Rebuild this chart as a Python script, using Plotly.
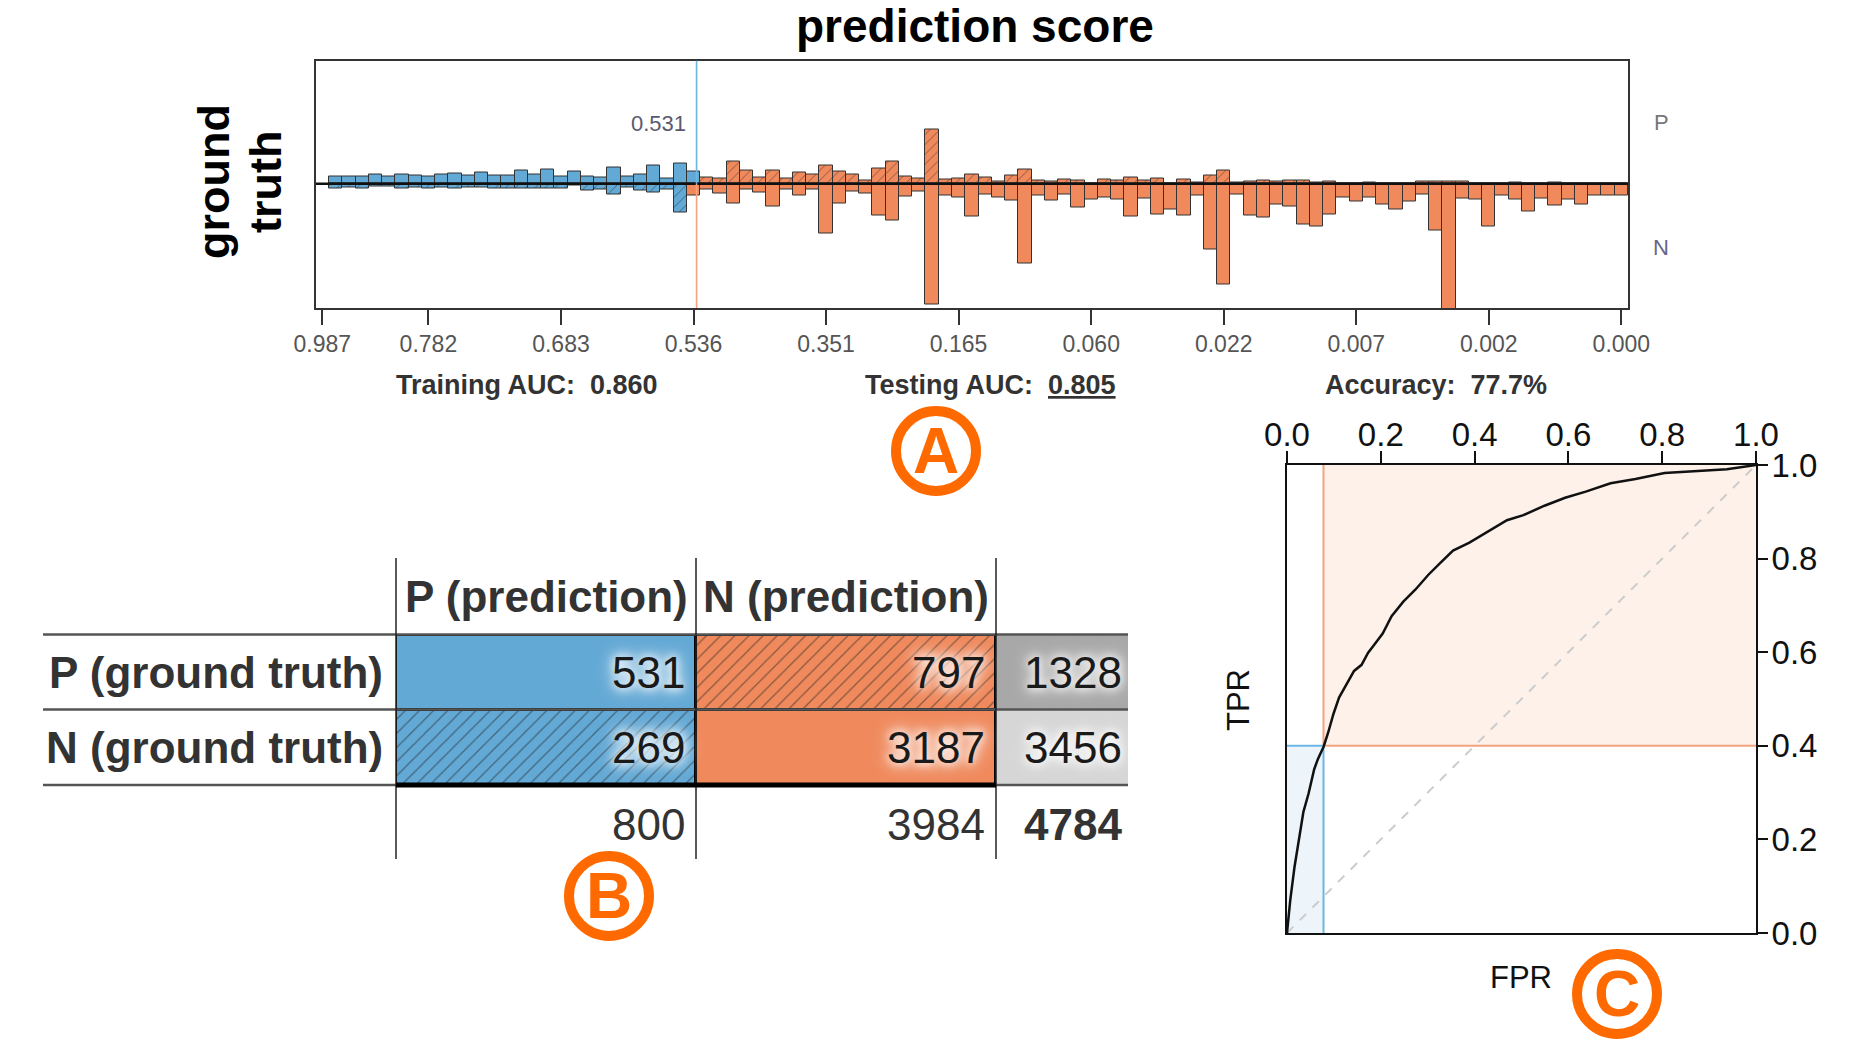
import numpy as np
import plotly.graph_objects as go

W, H = 1875, 1063

# ---------------- data ----------------
# prediction-score histogram: 98 equal-width bins ordered from high to low score
# bar heights (relative units); P ground truth drawn up, N drawn down
pos_heights = [
    7.7, 7.7, 7.3, 9, 7.7, 9.7, 8.7, 7, 9, 10.7,
    8, 11.7, 8, 8, 13, 9.7, 14.3, 7, 12.5, 7,
    6.3, 16.3, 7.7, 9, 18, 5.7, 20, 12, 6.3, 5.3,
    22.3, 13.7, 6.7, 13.7, 5.7, 11, 9.3, 18, 12, 9.7,
    3, 15.3, 22, 7, 5.7, 53.7, 4.7, 5.7, 9.7, 6,
    2, 8, 14.7, 3, 2, 4.7, 3.3, 0.3, 4.3, 3.3,
    6.7, 3.3, 5.3, 0.3, 4.3, 1.7, 8.7, 13, 1.7, 2,
    3.3, 2, 3, 3.7, 1.7, 2.3, 0, 0, 1.7, 0,
    0, 0, 2.7, 2.3, 2.3, 2.3, 0, 0, 0, 1.7,
    0, 0.7, 1.7, 0, 0, 0, 0, 0]
neg_heights = [
    5, 3.7, 5, 3, 3, 4.3, 3.7, 5, 3.7, 5,
    3.7, 3.7, 5, 5, 5, 5, 5, 5, 2, 6.5,
    6, 11, 4, 7, 9, 6, 29, 12, 6, 9.7,
    20, 6, 8.7, 22.3, 6, 12, 6, 50, 19.3, 8,
    9.7, 32, 36.7, 13, 7.3, 121, 12, 13.3, 32.7, 10.7,
    13.3, 17, 79.3, 12, 17, 10.5, 23.3, 16, 13.3, 16,
    32.5, 14.5, 31, 25.3, 32, 12, 66, 100.3, 10.5, 32,
    33.3, 21, 22.5, 40.2, 42.5, 30.5, 13.3, 17.5, 13.3, 20.7,
    26, 17.5, 11, 46.5, 135, 15.2, 16.2, 42.5, 11.3, 16,
    27.3, 14.3, 21.7, 16, 20.7, 12, 11.3, 12]
last_pred_pos_bin_up = 27
last_pred_pos_bin_down = 26
threshold_label = "0.531"
threshold_pos = 27.23
score_tick_bins = [-1, 7, 17, 27, 37, 47, 57, 67, 77, 87, 97]
score_tick_labels = ["0.987", "0.782", "0.683", "0.536", "0.351", "0.165",
                     "0.060", "0.022", "0.007", "0.002", "0.000"]

training_auc = "0.860"
testing_auc = "0.805"
accuracy = "77.7%"

# confusion matrix
row_labels = ["P (ground truth)", "N (ground truth)"]
col_labels = ["P (prediction)", "N (prediction)"]
confusion = [[531, 797],
             [269, 3187]]

# ROC curve
roc_fpr = [0.0, 0.007, 0.016, 0.027, 0.035, 0.046, 0.058, 0.066, 0.078, 0.088, 0.099, 0.111,
           0.128, 0.143, 0.159, 0.173, 0.186, 0.204, 0.223, 0.248, 0.274, 0.301, 0.327, 0.354,
           0.389, 0.425, 0.469, 0.504, 0.549, 0.593, 0.637, 0.690, 0.743, 0.805, 0.876, 0.938, 1.0]
roc_tpr = [0.0, 0.071, 0.141, 0.211, 0.259, 0.298, 0.350, 0.372, 0.398, 0.429, 0.468, 0.503,
           0.534, 0.560, 0.573, 0.599, 0.616, 0.640, 0.677, 0.708, 0.734, 0.765, 0.791, 0.817,
           0.834, 0.856, 0.882, 0.893, 0.913, 0.930, 0.943, 0.961, 0.970, 0.983, 0.987, 0.991, 1.0]
roc_ticks = [0.0, 0.2, 0.4, 0.6, 0.8, 1.0]

# ---------------- styles ----------------
FONT = "Liberation Sans, Arial, Helvetica, sans-serif"
BLUE = "#63a9d6"
ORANGE = "#f08a5d"
BLUE_LINE = "#6cb6e6"
ORANGE_LINE = "#f5a27f"
BADGE = "#ff6a00"
GLOW = "0px 0px 8px #ffffff, 0px 0px 14px #ffffff, 0px 0px 20px #ffffff"


def px(x):
    return x / W


def py(y):
    return 1 - y / H


fig = go.Figure()

# ---------------- histogram ----------------
bins = np.arange(len(pos_heights))
pos = np.array(pos_heights, dtype=float)
neg = np.array(neg_heights, dtype=float)
up_p = bins <= last_pred_pos_bin_up
dn_p = bins <= last_pred_pos_bin_down
hatch_h = dict(shape="/", fgcolor="#222", size=7, solidity=0.14, fillmode="overlay")
bar_line = dict(color="#333", width=1)

fig.add_bar(x=bins[up_p], y=pos[up_p], width=1, marker=dict(color=BLUE, line=bar_line),
            xaxis="x", yaxis="y")
fig.add_bar(x=bins[~up_p], y=pos[~up_p], width=1,
            marker=dict(color=ORANGE, line=bar_line, pattern=hatch_h), xaxis="x", yaxis="y")
fig.add_bar(x=bins[dn_p], y=-neg[dn_p], width=1,
            marker=dict(color=BLUE, line=bar_line, pattern=hatch_h), xaxis="x", yaxis="y")
fig.add_bar(x=bins[~dn_p], y=-neg[~dn_p], width=1, marker=dict(color=ORANGE, line=bar_line),
            xaxis="x", yaxis="y")

shapes = []
# baseline
shapes.append(dict(type="line", xref="x domain", yref="y", x0=0, x1=1, y0=0, y1=0,
                   line=dict(color="#111", width=2.5), layer="above"))
# threshold line
shapes.append(dict(type="line", xref="x", yref="y", x0=threshold_pos, x1=threshold_pos,
                   y0=0, y1=123, line=dict(color=BLUE_LINE, width=1.6), layer="above"))
shapes.append(dict(type="line", xref="x", yref="y", x0=threshold_pos, x1=threshold_pos,
                   y0=0, y1=-124, line=dict(color=ORANGE_LINE, width=1.6), layer="above"))

annotations = []
annotations.append(dict(x=px(975), y=py(26), xref="paper", yref="paper", text="<b>prediction score</b>",
                        showarrow=False, xanchor="center", yanchor="middle",
                        font=dict(family=FONT, size=46, color="#000")))
annotations.append(dict(x=px(214), y=py(182), xref="paper", yref="paper", text="<b>ground</b>",
                        showarrow=False, textangle=-90, xanchor="center", yanchor="middle",
                        font=dict(family=FONT, size=45, color="#000")))
annotations.append(dict(x=px(266), y=py(182), xref="paper", yref="paper", text="<b>truth</b>",
                        showarrow=False, textangle=-90, xanchor="center", yanchor="middle",
                        font=dict(family=FONT, size=45, color="#000")))
annotations.append(dict(x=px(688), y=py(124), xref="paper", yref="paper", text=threshold_label,
                        showarrow=False, xanchor="right", yanchor="middle",
                        font=dict(family=FONT, size=22, color="#5a5a6e")))
annotations.append(dict(x=px(1661), y=py(122), xref="paper", yref="paper", text="P",
                        showarrow=False, xanchor="center", yanchor="middle",
                        font=dict(family=FONT, size=22, color="#777")))
annotations.append(dict(x=px(1661), y=py(247), xref="paper", yref="paper", text="N",
                        showarrow=False, xanchor="center", yanchor="middle",
                        font=dict(family=FONT, size=22, color="#66668a")))

stat_font = dict(family=FONT, size=27, color="#333")
annotations.append(dict(x=px(394), y=py(385), xref="paper", yref="paper",
                        text="<b>Training AUC:&nbsp;&nbsp;" + training_auc + "</b>",
                        showarrow=False, xanchor="left", yanchor="middle", font=stat_font))
annotations.append(dict(x=px(863), y=py(385), xref="paper", yref="paper",
                        text="<b>Testing AUC:&nbsp;&nbsp;<u>" + testing_auc + "</u></b>",
                        showarrow=False, xanchor="left", yanchor="middle", font=stat_font))
annotations.append(dict(x=px(1323), y=py(385), xref="paper", yref="paper",
                        text="<b>Accuracy:&nbsp;&nbsp;" + accuracy + "</b>",
                        showarrow=False, xanchor="left", yanchor="middle", font=stat_font))

# ---------------- confusion matrix (bars on x3/y3) ----------------
TBL_L, TBL_R, TBL_T, TBL_B = 396, 1128, 635, 785
COL_W = 300.0
TOT_W = (TBL_R - TBL_L - 2 * COL_W) / COL_W
hatch_t = dict(shape="/", fgcolor="#222", size=10, solidity=0.13, fillmode="overlay")
cm = np.array(confusion)
for r in range(2):
    for c in range(2):
        hatched = r != c
        fig.add_bar(x=[c + 0.5], y=[1], base=[r], width=1, xaxis="x3", yaxis="y3",
                    marker=dict(color=BLUE if c == 0 else ORANGE,
                                line=dict(color="#000", width=3),
                                pattern=hatch_t if hatched else None))
row_tot = cm.sum(axis=1)
col_tot = cm.sum(axis=0)
grand = cm.sum()
fig.add_bar(x=[2 + TOT_W / 2] * 2, y=[1, 1], base=[0, 1], width=TOT_W, xaxis="x3", yaxis="y3",
            marker=dict(color=["#a8a8a8", "#d6d6d6"], line=dict(width=0)))

# table lines
for yy in (634.5, 709.5, 785):
    shapes.append(dict(type="line", xref="paper", yref="paper", x0=px(43), x1=px(1128),
                       y0=py(yy), y1=py(yy), line=dict(color="#555", width=2.5)))
for xx in (396, 696, 996):
    shapes.append(dict(type="line", xref="paper", yref="paper", x0=px(xx), x1=px(xx),
                       y0=py(558), y1=py(859), line=dict(color="#222", width=1.5)))
shapes.append(dict(type="line", xref="paper", yref="paper", x0=px(396), x1=px(996),
                   y0=py(785), y1=py(785), line=dict(color="#000", width=5), layer="above"))

num_font = dict(family=FONT, size=44, color="#1a1a1a", shadow=GLOW)
lab_font = dict(family=FONT, size=44, color="#333")
col_centers = [TBL_L + COL_W / 2, TBL_L + COL_W * 1.5]
col_rights = [TBL_L + COL_W - 9, TBL_L + 2 * COL_W - 9, TBL_R - 4]
row_centers = [672, 747.5]
for c, lab in enumerate(col_labels):
    annotations.append(dict(x=px(col_centers[c]), y=py(596), xref="paper", yref="paper",
                            text="<b>" + lab + "</b>", showarrow=False, xanchor="center",
                            yanchor="middle", font=lab_font))
for r, lab in enumerate(row_labels):
    annotations.append(dict(x=px(385), y=py(row_centers[r]), xref="paper", yref="paper",
                            text="<b>" + lab + "</b>", showarrow=False, xanchor="right",
                            yanchor="middle", font=lab_font))
    for c in range(2):
        annotations.append(dict(x=px(col_rights[c]), y=py(row_centers[r]), xref="paper",
                                yref="paper", text=str(cm[r, c]), showarrow=False,
                                xanchor="right", yanchor="middle", font=num_font))
    annotations.append(dict(x=px(col_rights[2]), y=py(row_centers[r]), xref="paper",
                            yref="paper", text=str(row_tot[r]), showarrow=False,
                            xanchor="right", yanchor="middle", font=num_font))
for c in range(2):
    annotations.append(dict(x=px(col_rights[c]), y=py(824), xref="paper", yref="paper",
                            text=str(col_tot[c]), showarrow=False, xanchor="right",
                            yanchor="middle", font=dict(family=FONT, size=44, color="#333")))
annotations.append(dict(x=px(col_rights[2]), y=py(824), xref="paper", yref="paper",
                        text="<b>" + str(grand) + "</b>", showarrow=False, xanchor="right",
                        yanchor="middle", font=dict(family=FONT, size=44, color="#333")))

# ---------------- ROC ----------------
thr_fpr = cm[1, 0] / row_tot[1]
thr_tpr = cm[0, 0] / row_tot[0]
shapes.append(dict(type="rect", xref="x2", yref="y2", x0=thr_fpr, x1=1, y0=thr_tpr, y1=1,
                   fillcolor="#fdf1ea", line=dict(width=0), layer="below"))
shapes.append(dict(type="rect", xref="x2", yref="y2", x0=0, x1=thr_fpr, y0=0, y1=thr_tpr,
                   fillcolor="#edf5fa", line=dict(width=0), layer="below"))
shapes.append(dict(type="line", xref="x2", yref="y2", x0=0, x1=1, y0=0, y1=1,
                   line=dict(color="#cccccc", width=2, dash="dash"), layer="below"))
shapes.append(dict(type="line", xref="x2", yref="y2", x0=thr_fpr, x1=thr_fpr, y0=thr_tpr, y1=1,
                   line=dict(color=ORANGE_LINE, width=2), layer="below"))
shapes.append(dict(type="line", xref="x2", yref="y2", x0=thr_fpr, x1=1, y0=thr_tpr, y1=thr_tpr,
                   line=dict(color=ORANGE_LINE, width=2), layer="below"))
shapes.append(dict(type="line", xref="x2", yref="y2", x0=thr_fpr, x1=thr_fpr, y0=0, y1=thr_tpr,
                   line=dict(color=BLUE_LINE, width=2), layer="below"))
shapes.append(dict(type="line", xref="x2", yref="y2", x0=0, x1=thr_fpr, y0=thr_tpr, y1=thr_tpr,
                   line=dict(color=BLUE_LINE, width=2), layer="below"))
fig.add_scatter(x=roc_fpr, y=roc_tpr, mode="lines", line=dict(color="#111", width=2.5),
                xaxis="x2", yaxis="y2")

annotations.append(dict(x=px(1238), y=py(700), xref="paper", yref="paper", text="TPR",
                        showarrow=False, textangle=-90, xanchor="center", yanchor="middle",
                        font=dict(family=FONT, size=31, color="#111")))
annotations.append(dict(x=px(1521), y=py(977), xref="paper", yref="paper", text="FPR",
                        showarrow=False, xanchor="center", yanchor="middle",
                        font=dict(family=FONT, size=31, color="#111")))

# ---------------- badges ----------------
for letter, cx, cy in (("A", 936, 451), ("B", 609, 896), ("C", 1617, 994)):
    r = 40
    shapes.append(dict(type="circle", xref="paper", yref="paper", x0=px(cx - r), x1=px(cx + r),
                       y0=py(cy + r), y1=py(cy - r), line=dict(color=BADGE, width=10),
                       fillcolor="white", layer="above"))
    annotations.append(dict(x=px(cx), y=py(cy), xref="paper", yref="paper",
                            text="<b>" + letter + "</b>", showarrow=False, xanchor="center",
                            yanchor="middle", font=dict(family=FONT, size=64, color=BADGE)))

# ---------------- layout ----------------
fig.update_layout(
    width=W, height=H, margin=dict(l=0, r=0, t=0, b=0, pad=0), autosize=False,
    paper_bgcolor="white", plot_bgcolor="white", showlegend=False,
    barmode="overlay", bargap=0,
    font=dict(family=FONT),
    xaxis=dict(domain=[px(316), px(1628)], range=[-1.48, 97.5], anchor="y", automargin=False,
               tickvals=score_tick_bins, ticktext=score_tick_labels, ticks="outside",
               ticklen=15, tickwidth=2, tickcolor="#333", showline=True, linecolor="#333",
               linewidth=1.5, mirror=True, showgrid=False, zeroline=False,
               tickfont=dict(family=FONT, size=23, color="#555")),
    yaxis=dict(domain=[py(308), py(60.5)], range=[-124, 123], anchor="x", automargin=False,
               showticklabels=False, ticks="", showline=True, linecolor="#333", linewidth=1.5,
               mirror=True, showgrid=False, zeroline=False),
    xaxis2=dict(domain=[px(1287), px(1756)], range=[0, 1], anchor="y2", side="top",
                automargin=False, ticklabelstandoff=-8,
                tickvals=roc_ticks, tickformat=".1f", ticks="outside", ticklen=12, tickwidth=2,
                tickcolor="#111", showline=True, linecolor="#111", linewidth=2, mirror=True,
                showgrid=False, zeroline=False, tickfont=dict(family=FONT, size=33, color="#111")),
    yaxis2=dict(domain=[py(933), py(465)], range=[0, 1], anchor="x2", side="right",
                automargin=False, ticklabelstandoff=-3,
                tickvals=roc_ticks, tickformat=".1f", ticks="outside", ticklen=10, tickwidth=2,
                tickcolor="#111", showline=True, linecolor="#111", linewidth=2, mirror=True,
                showgrid=False, zeroline=False, tickfont=dict(family=FONT, size=33, color="#111")),
    xaxis3=dict(domain=[px(TBL_L), px(TBL_R)], range=[0, 2 + TOT_W], anchor="y3",
                visible=False, automargin=False),
    yaxis3=dict(domain=[py(TBL_B), py(TBL_T)], range=[2, 0], anchor="x3", visible=False,
                automargin=False),
    shapes=shapes,
    annotations=annotations,
)

fig.write_html("out.html")
